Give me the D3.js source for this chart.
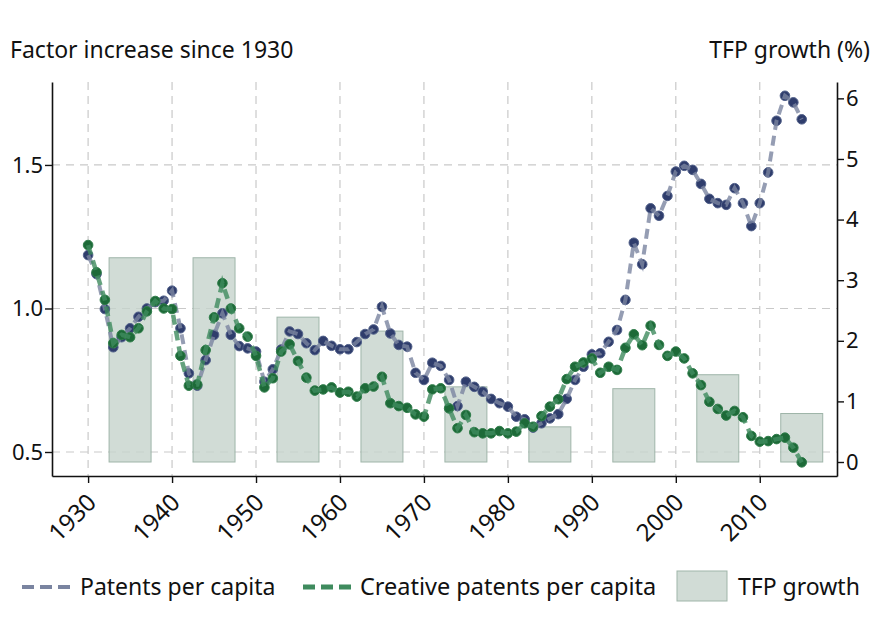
<!DOCTYPE html>
<html>
<head>
<meta charset="utf-8">
<script src="https://cdn.jsdelivr.net/npm/d3@7"></script>
<style>
  body { margin: 0; background: #fff; }
  text { font-family: "Noto Sans", "Open Sans", sans-serif; fill: #111; }
</style>
</head>
<body>
<div id="container"></div>
<script>
/* CONSTANTS AND GLOBALS */
const width = 880,
  height = 619,
  margin = { top: 82, right: 43, bottom: 143, left: 52 };

/* DATA */
const years = d3.range(1930, 2016);

const patents = [
  1.186, 1.12, 0.998, 0.865, 0.90, 0.931, 0.971, 1.0, 1.022, 1.027,
  1.062, 0.931, 0.774, 0.731, 0.82, 0.908, 0.983, 0.908, 0.869, 0.861,
  0.85, 0.745, 0.788, 0.857, 0.92, 0.911, 0.879, 0.855, 0.887, 0.87,
  0.858, 0.858, 0.883, 0.911, 0.927, 1.006, 0.913, 0.873, 0.867, 0.776,
  0.751, 0.811, 0.80, 0.751, 0.66, 0.745, 0.727, 0.71, 0.685, 0.67,
  0.658, 0.623, 0.614, 0.585, 0.60, 0.617, 0.632, 0.685, 0.751, 0.797,
  0.84, 0.844, 0.884, 0.925, 1.03, 1.229, 1.154, 1.349, 1.323, 1.392,
  1.477, 1.497, 1.483, 1.434, 1.382, 1.367, 1.361, 1.419, 1.367, 1.287,
  1.367, 1.474, 1.654, 1.741, 1.718, 1.659
];

const creative = [
  1.221, 1.126, 1.03, 0.879, 0.908, 0.90, 0.931, 0.99, 1.026, 1.0,
  0.998, 0.835, 0.731, 0.735, 0.855, 0.969, 1.088, 1.0, 0.931, 0.902,
  0.835, 0.725, 0.757, 0.85, 0.875, 0.817, 0.759, 0.714, 0.718, 0.725,
  0.707, 0.71, 0.693, 0.722, 0.728, 0.762, 0.67, 0.66, 0.654, 0.631,
  0.623, 0.718, 0.722, 0.652, 0.583, 0.629, 0.569, 0.565, 0.565, 0.573,
  0.565, 0.571, 0.60, 0.588, 0.625, 0.658, 0.684, 0.754, 0.797, 0.812,
  0.826, 0.776, 0.797, 0.786, 0.863, 0.91, 0.872, 0.94, 0.873, 0.835,
  0.85, 0.826, 0.774, 0.733, 0.675, 0.65, 0.627, 0.643, 0.621, 0.556,
  0.536, 0.538, 0.545, 0.55, 0.515, 0.464
];

const tfpYears = [1935, 1945, 1955, 1965, 1975, 1985, 1995, 2005, 2015];
const tfpGrowth = [3.37, 3.37, 2.39, 2.16, 1.24, 0.58, 1.21, 1.44, 0.80];

const xTicks = d3.range(1930, 2011, 10);
const leftTicks = [0.5, 1.0, 1.5];
const rightTicks = [0, 1, 2, 3, 4, 5, 6];

const patentData = years.map((y, i) => ({ year: y, value: patents[i] }));
const creativeData = years.map((y, i) => ({ year: y, value: creative[i] }));
const tfpData = tfpYears.map((y, i) => ({ year: y, value: tfpGrowth[i] }));

/* SVG */
const svg = d3.select("#container")
  .append("svg")
  .attr("width", width)
  .attr("height", height);

/* SCALES */
const xScale = d3.scaleLinear()
  .domain([1925.7, 2019.2])
  .range([margin.left, width - margin.right]);

const yScale = d3.scaleLinear()
  .domain([0.4164, 1.789])
  .range([height - margin.bottom, margin.top]);

const y2Scale = d3.scaleLinear()
  .domain([-0.231, 6.27])
  .range([height - margin.bottom, margin.top]);

const gridColor = "#c9c9c9";

/* GRIDLINES */
svg.append("g")
  .selectAll("line")
  .data(xTicks)
  .join("line")
  .attr("x1", d => xScale(d))
  .attr("x2", d => xScale(d))
  .attr("y1", margin.top)
  .attr("y2", height - margin.bottom)
  .attr("stroke", gridColor)
  .attr("stroke-width", 1.2)
  .attr("stroke-dasharray", "8,6");

svg.append("g")
  .selectAll("line")
  .data(leftTicks)
  .join("line")
  .attr("x1", margin.left)
  .attr("x2", width - margin.right)
  .attr("y1", d => yScale(d))
  .attr("y2", d => yScale(d))
  .attr("stroke", gridColor)
  .attr("stroke-width", 1.2)
  .attr("stroke-dasharray", "8,6");

/* BARS */
const barW = xScale(1935) - xScale(1930);
svg.append("g")
  .selectAll("rect")
  .data(tfpData)
  .join("rect")
  .attr("x", d => xScale(d.year - 2.5))
  .attr("width", barW)
  .attr("y", d => y2Scale(d.value))
  .attr("height", d => y2Scale(0) - y2Scale(d.value))
  .attr("fill", "#c5d3cc")
  .attr("fill-opacity", 0.8)
  .attr("stroke", "#9fb5a9")
  .attr("stroke-width", 1);

/* LINES + MARKERS */
const line = d3.line()
  .x(d => xScale(d.year))
  .y(d => yScale(d.value));

function drawSeries(data, markerFill, markerStroke, lineColor, lw) {
  const g = svg.append("g");
  g.selectAll("circle")
    .data(data)
    .join("circle")
    .attr("cx", d => xScale(d.year))
    .attr("cy", d => yScale(d.value))
    .attr("r", 4.8)
    .attr("fill", markerFill)
    .attr("stroke", markerStroke)
    .attr("stroke-width", 1);
  g.append("path")
    .datum(data)
    .attr("d", line)
    .attr("fill", "none")
    .attr("stroke", lineColor)
    .attr("stroke-opacity", 0.8)
    .attr("stroke-width", lw)
    .attr("stroke-dasharray", "10,6");
}

drawSeries(patentData, "#2f3d6c", "#52618a", "#7a84a0", 4);
drawSeries(creativeData, "#1d6a38", "#2f7d4a", "#3f8b5e", 4.5);

/* AXES */
svg.append("g")
  .attr("class", "x-axis")
  .attr("transform", `translate(0,${height - margin.bottom})`)
  .call(d3.axisBottom(xScale).tickValues(xTicks).tickFormat(d3.format("d")).tickSize(7).tickSizeOuter(0))
  .call(g => g.select(".domain").attr("stroke", "#111").attr("stroke-width", 1.6))
  .call(g => g.selectAll(".tick line").attr("stroke", "#111").attr("stroke-width", 1.4))
  .selectAll("text")
  .style("font-size", "24px")
  .attr("fill", "#111")
  .attr("text-anchor", "end")
  .attr("transform", "translate(9,28) rotate(-45)")
  .attr("dy", 0)
  .attr("y", 0)
  .attr("x", 0);

svg.append("g")
  .attr("class", "y-axis")
  .attr("transform", `translate(${margin.left},0)`)
  .call(d3.axisLeft(yScale).tickValues(leftTicks).tickFormat(d3.format(".1f")).tickSize(7).tickSizeOuter(0))
  .call(g => g.select(".domain").attr("stroke", "#111").attr("stroke-width", 1.6))
  .call(g => g.selectAll(".tick line").attr("stroke", "#111").attr("stroke-width", 1.4))
  .selectAll("text")
  .style("font-size", "22px")
  .attr("fill", "#111")
  .attr("x", -9);

svg.append("g")
  .attr("class", "y2-axis")
  .attr("transform", `translate(${width - margin.right},0)`)
  .call(d3.axisRight(y2Scale).tickValues(rightTicks).tickFormat(d3.format("d")).tickSize(7).tickSizeOuter(0))
  .call(g => g.select(".domain").attr("stroke", "#111").attr("stroke-width", 1.6))
  .call(g => g.selectAll(".tick line").attr("stroke", "#111").attr("stroke-width", 1.4))
  .selectAll("text")
  .style("font-size", "22px")
  .attr("fill", "#111")
  .attr("x", 9);

/* AXIS TITLES */
svg.append("text")
  .attr("x", 10)
  .attr("y", 58)
  .style("font-size", "23px")
  .text("Factor increase since 1930");

svg.append("text")
  .attr("x", 870)
  .attr("y", 58)
  .attr("text-anchor", "end")
  .style("font-size", "23px")
  .text("TFP growth (%)");

/* LEGEND */
const legendY = 587;
const legend = svg.append("g");

legend.append("line")
  .attr("x1", 22).attr("x2", 70)
  .attr("y1", legendY).attr("y2", legendY)
  .attr("stroke", "#7a84a0").attr("stroke-width", 4)
  .attr("stroke-dasharray", "12,6");
legend.append("text")
  .attr("x", 80).attr("y", legendY).attr("dy", "0.35em")
  .style("font-size", "23px")
  .text("Patents per capita");

legend.append("line")
  .attr("x1", 303).attr("x2", 351)
  .attr("y1", legendY).attr("y2", legendY)
  .attr("stroke", "#3f8b5e").attr("stroke-width", 5)
  .attr("stroke-dasharray", "12,6");
legend.append("text")
  .attr("x", 360).attr("y", legendY).attr("dy", "0.35em")
  .style("font-size", "23.5px")
  .text("Creative patents per capita");

legend.append("rect")
  .attr("x", 677).attr("y", 571)
  .attr("width", 50).attr("height", 30)
  .attr("fill", "#c5d3cc").attr("fill-opacity", 0.8)
  .attr("stroke", "#9fb5a9");
legend.append("text")
  .attr("x", 738).attr("y", legendY).attr("dy", "0.35em")
  .style("font-size", "23px")
  .text("TFP growth");
</script>
</body>
</html>
